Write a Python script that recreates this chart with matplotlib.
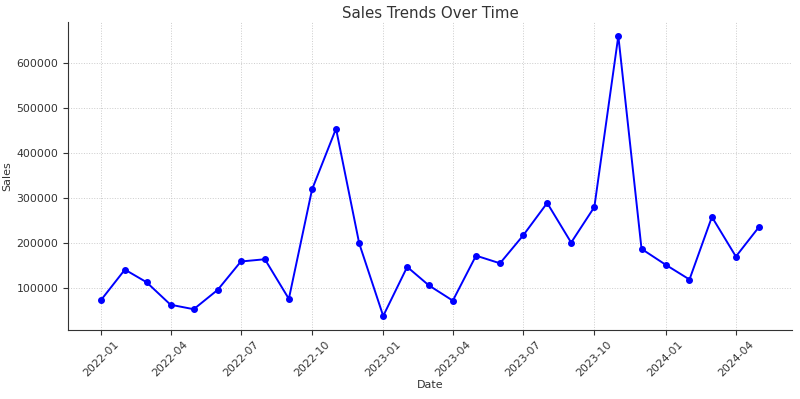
import pandas as pd
import matplotlib
matplotlib.use("Agg")
import matplotlib.pyplot as plt
import matplotlib.dates as mdates

# Monthly sales, 2022-01 .. 2024-05
dates = pd.date_range("2022-01-01", periods=29, freq="MS")
sales = [
    72000, 140000, 112000, 62000, 52000, 95000, 158000, 163000, 75000,
    318000, 453000, 198000, 37000, 146000, 105000, 71000, 171000, 154000,
    216000, 288000, 200000, 279000, 659000, 186000, 151000, 118000,
    257000, 169000, 235000,
]

fig, ax = plt.subplots(figsize=(8, 3.99), dpi=100)
ax.plot(dates, sales, marker="o", color="blue", markersize=4, linewidth=1.4)

ax.set_title("Sales Trends Over Time", fontsize=10.8, color="#333333", pad=3)
ax.set_xlabel("Date", fontsize=8, color="#333333", labelpad=1)
ax.set_ylabel("Sales", fontsize=8, color="#333333", labelpad=3)

ax.xaxis.set_major_locator(mdates.MonthLocator(bymonth=[1, 4, 7, 10]))
ax.xaxis.set_major_formatter(mdates.DateFormatter("%Y-%m"))
plt.setp(ax.get_xticklabels(), rotation=45)
ax.tick_params(labelsize=7.8, colors="#333333", length=3.5)

ax.grid(True, linestyle=":", color="#cccccc", linewidth=0.7)
ax.spines["top"].set_visible(False)
ax.spines["right"].set_visible(False)
ax.spines["left"].set_color("#333333")
ax.spines["bottom"].set_color("#333333")

fig.subplots_adjust(left=0.085, right=0.99, top=0.945, bottom=0.173)
plt.savefig("out.png")
